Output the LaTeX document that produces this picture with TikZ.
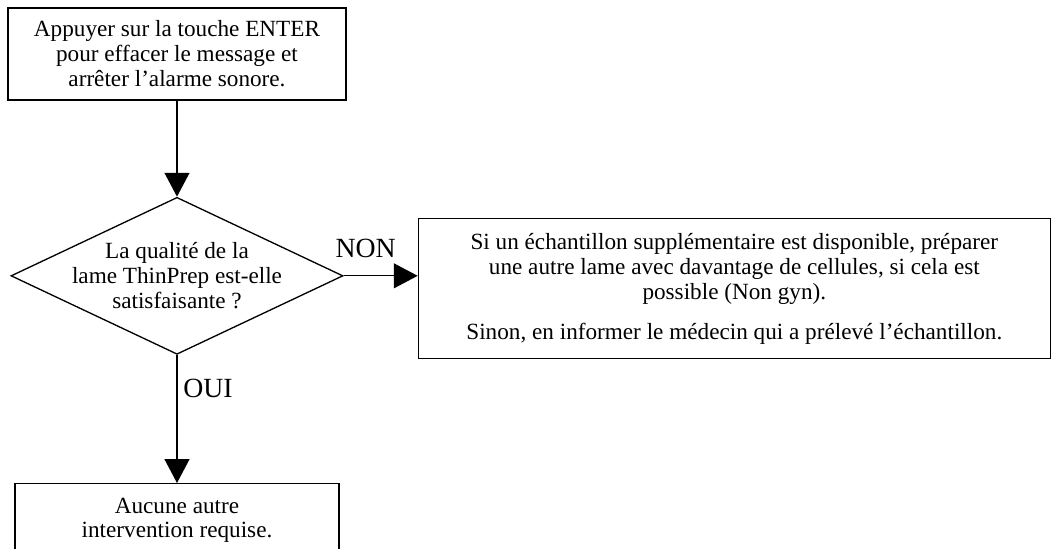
\documentclass[tikz,border=0pt]{standalone}
\usepackage{fontspec}
\setmainfont{Liberation Serif}
\usepackage{tikz}
\usetikzlibrary{arrows.meta,positioning,calc,shapes.geometric}

\begin{document}
\begin{tikzpicture}[
  stepbox/.style={draw, line width=0.75pt, align=center, font=\fontsize{13.2}{14.2}\selectfont, inner sep=0pt},
  query/.style={draw, line width=0.75pt, diamond, aspect=2.11, inner sep=-4pt, minimum width=6.64cm, minimum height=3.14cm, align=center, font=\fontsize{13.2}{14.2}\selectfont},
  lbl/.style={font=\fontsize{15.8}{17}\selectfont, inner sep=0pt},
  arr/.style={-{Triangle[length=13.6pt, width=14.2pt]}, line width=0.75pt}
]
  % page frame, the last box runs off the bottom edge
  \clip (-3.54,1.08) rectangle (17.54,-9.88);
  \node[stepbox, minimum width=6.76cm, minimum height=1.84cm] (start) at (0,0)
    {Appuyer sur la touche ENTER\\ pour effacer le message et\\ arrêter l’alarme sonore.};
  \node[query, below=1.92cm of start] (check)
    {La qualité de la\\ lame ThinPrep est-elle\\ satisfaisante ?};
  \node[stepbox, minimum width=12.64cm, minimum height=2.8cm, right=1.48cm of check, yshift=-0.26cm] (retry)
    {Si un échantillon supplémentaire est disponible, préparer\\ une autre lame avec davantage de cellules, si cela est\\ possible (Non gyn).\\[8.5pt] Sinon, en informer le médecin qui a prélevé l’échantillon.};
  \node[stepbox, minimum width=6.48cm, text depth=1.2cm, inner ysep=8pt, below=2.56cm of check] (done)
    {Aucune autre\\ intervention requise.};

  \draw[arr] (start) -- (check);
  \draw[arr] (check.east) -- (check.east -| retry.west);
  \draw[arr] (check) -- (done);

  \node[lbl] (non) at ($(check.east)+(0.44,0.54)$) {NON};
  \node[lbl] (oui) at ($(check.south)+(0.62,-0.66)$) {OUI};
\end{tikzpicture}
\end{document}
